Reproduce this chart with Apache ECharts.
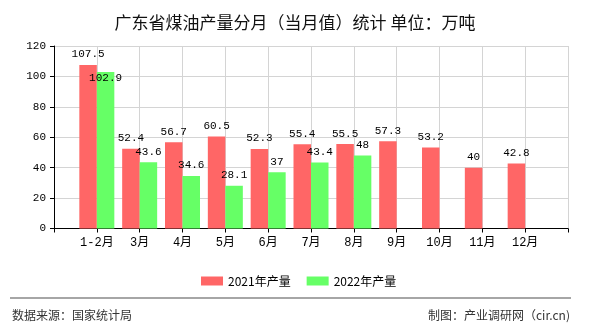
<!DOCTYPE html>
<html>
<head>
<meta charset="utf-8">
<script src="https://cdn.jsdelivr.net/npm/echarts@6/dist/echarts.min.js"></script>
<style>
html,body{margin:0;padding:0;background:#fff;}
#chart{width:590px;height:330px;}
</style>
</head>
<body>
<div id="chart"></div>
<script>
var titleText = '广东省煤油产量分月（当月值）统计 单位：万吨';
var categories = ['1-2月','3月','4月','5月','6月','7月','8月','9月','10月','11月','12月'];
var series2021Name = '2021年产量';
var series2022Name = '2022年产量';
var values2021 = [107.5, 52.4, 56.7, 60.5, 52.3, 55.4, 55.5, 57.3, 53.2, 40, 42.8];
var values2022 = [102.9, 43.6, 34.6, 28.1, 37, 43.4, 48, null, null, null, null];
var yTicks = [0, 20, 40, 60, 80, 100, 120];
var sourceText = '数据来源：国家统计局';
var makerText = '制图：产业调研网（cir.cn)';

var monoFont = '"Liberation Mono", "Noto Sans CJK SC", monospace';
var cjkFont = '"Noto Sans CJK SC", sans-serif';

// pad categories so that ticks sit on category positions with an empty slot at both ends
var xCats = [''].concat(categories).concat(['']);
function pad(arr) { return [null].concat(arr).concat([null]); }

var d2021 = pad(values2021);
var d2022 = pad(values2022).map(function (v, i) {
  if (i === 1 && v != null) {
    return { value: v, label: { offset: [0, 17] } };
  }
  return v;
});

var chart = echarts.init(document.getElementById('chart'), null, { renderer: 'canvas' });
chart.setOption({
  animation: false,
  backgroundColor: '#fff',
  title: {
    text: titleText,
    left: 'center',
    top: 9,
    textStyle: { fontFamily: cjkFont, fontSize: 17, fontWeight: 'normal', color: '#111' }
  },
  legend: {
    data: [series2021Name, series2022Name],
    left: 196,
    top: 270,
    itemWidth: 22,
    itemHeight: 9,
    itemGap: 16,
    icon: 'rect',
    textStyle: { fontFamily: cjkFont, fontSize: 12, color: '#000' }
  },
  grid: {
    left: 54, right: 22, top: 46, bottom: 101.5,
    containLabel: false,
    outerBoundsMode: 'none'
  },
  xAxis: {
    type: 'category',
    data: xCats,
    boundaryGap: false,
    axisLine: { show: true, lineStyle: { color: '#000', width: 1 } },
    axisTick: { show: true, interval: 0, length: 4, lineStyle: { color: '#000' } },
    axisLabel: { interval: 0, margin: 8, fontFamily: monoFont, fontSize: 12, color: '#000' },
    splitLine: { show: true, interval: 0, lineStyle: { color: '#d4d4d4', width: 1 } }
  },
  yAxis: {
    type: 'value',
    min: yTicks[0],
    max: yTicks[yTicks.length - 1],
    interval: yTicks[1] - yTicks[0],
    axisLine: { show: true, lineStyle: { color: '#000', width: 1 } },
    axisTick: { show: true, length: 4, lineStyle: { color: '#000' } },
    axisLabel: { margin: 8, fontFamily: monoFont, fontSize: 11, color: '#000' },
    splitLine: { show: true, lineStyle: { color: '#d4d4d4', width: 1 } }
  },
  series: [
    {
      name: series2021Name,
      type: 'bar',
      data: d2021,
      barWidth: 17.5,
      barGap: '0%',
      itemStyle: { color: '#ff6666' },
      label: { show: true, position: 'top', distance: 5, fontFamily: monoFont, fontSize: 11, color: '#000' }
    },
    {
      name: series2022Name,
      type: 'bar',
      data: d2022,
      barWidth: 17.5,
      barGap: '0%',
      itemStyle: { color: '#66ff66' },
      label: { show: true, position: 'top', distance: 5, fontFamily: monoFont, fontSize: 11, color: '#000' }
    }
  ],
  graphic: [
    {
      type: 'line',
      shape: { x1: 10, y1: 298, x2: 571, y2: 298 },
      style: { stroke: '#888', lineWidth: 1.5 },
      silent: true
    },
    {
      type: 'text',
      left: 12,
      top: 309,
      style: { text: sourceText, fontFamily: cjkFont, fontSize: 12, fill: '#333' },
      silent: true
    },
    {
      type: 'text',
      right: 20,
      top: 309,
      style: { text: makerText, fontFamily: cjkFont, fontSize: 12, fill: '#333' },
      silent: true
    }
  ]
});
</script>
</body>
</html>
